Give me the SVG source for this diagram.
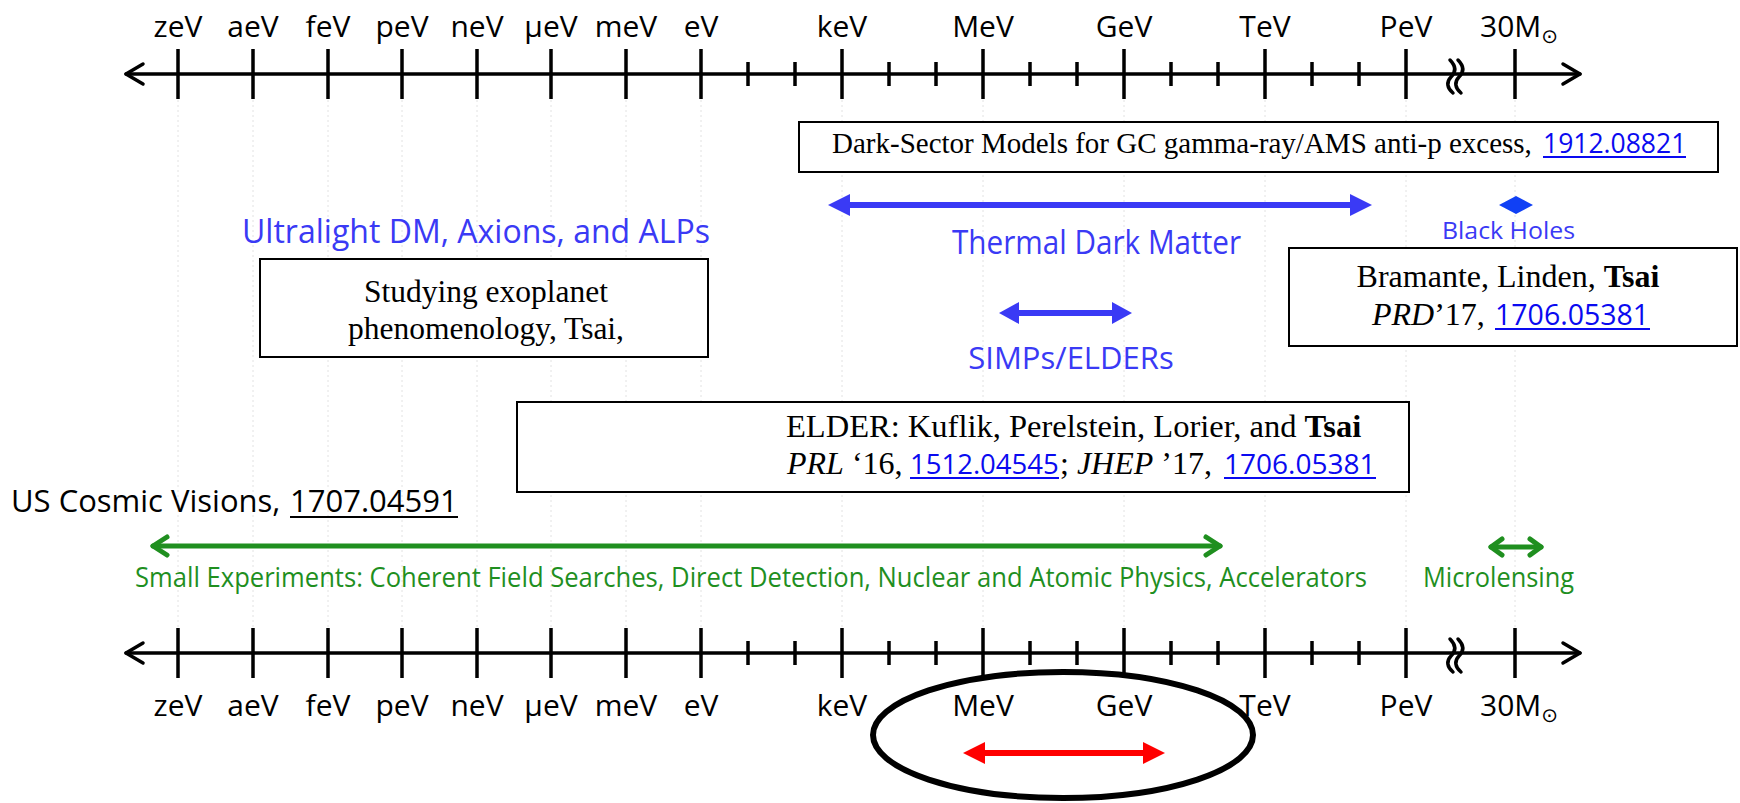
<svg xmlns="http://www.w3.org/2000/svg" width="1740" height="803" viewBox="0 0 1740 803">
<defs>
<style>
.ax{font-family:"Open Sans","Liberation Sans",sans-serif;font-size:30px;fill:#000;text-anchor:middle}
.axs{font-family:"Open Sans","Liberation Sans",sans-serif;font-size:30px;fill:#000}
.sun{font-family:"DejaVu Sans",sans-serif;font-size:20px}
.axl{stroke:#000;stroke-width:3.5;fill:none;stroke-linecap:round;stroke-linejoin:round}
.tk{stroke:#000;stroke-width:3.5}
.grid{stroke:#e2e2e2;stroke-width:1;stroke-dasharray:2 3}
.box{fill:#fff;stroke:#000;stroke-width:2}
.serif{font-family:"Liberation Serif","Times New Roman",serif;fill:#000}
.sans{font-family:"Open Sans","Liberation Sans",sans-serif}
.blue{fill:#3a3af5}
.link{fill:#0a0af0}
.ul{stroke:#0a0af0;stroke-width:2}
.green{fill:#1f8f1f}
.garr{stroke:#1f8f1f;stroke-width:5;fill:none;stroke-linecap:round;stroke-linejoin:round}
</style>
</defs>
<rect width="1740" height="803" fill="#fff"/>

<g id="grid">
<line class="grid" x1="178" y1="100" x2="178" y2="627"/>
<line class="grid" x1="253" y1="100" x2="253" y2="627"/>
<line class="grid" x1="328" y1="100" x2="328" y2="627"/>
<line class="grid" x1="402" y1="100" x2="402" y2="627"/>
<line class="grid" x1="477" y1="100" x2="477" y2="627"/>
<line class="grid" x1="551" y1="100" x2="551" y2="627"/>
<line class="grid" x1="626" y1="100" x2="626" y2="627"/>
<line class="grid" x1="701" y1="100" x2="701" y2="627"/>
<line class="grid" x1="842" y1="100" x2="842" y2="627"/>
<line class="grid" x1="983" y1="100" x2="983" y2="627"/>
<line class="grid" x1="1124" y1="100" x2="1124" y2="627"/>
<line class="grid" x1="1265" y1="100" x2="1265" y2="627"/>
<line class="grid" x1="1406" y1="100" x2="1406" y2="627"/>
<line class="grid" x1="1515" y1="100" x2="1515" y2="627"/>
</g>

<g id="axis-top">
<line class="axl" x1="126" y1="74" x2="1580" y2="74"/>
<path class="axl" d="M143,64 L126,74 L143,84"/>
<path class="axl" d="M1563,64 L1580,74 L1563,84"/>
<path class="tk" d="M178,49V99M253,49V99M328,49V99M402,49V99M477,49V99M551,49V99M626,49V99M701,49V99M842,49V99M983,49V99M1124,49V99M1265,49V99M1406,49V99M1515,49V99"/>
<path class="tk" d="M748,62V86M795,62V86M889,62V86M936,62V86M1030,62V86M1077,62V86M1171,62V86M1218,62V86M1312,62V86M1359,62V86"/>
<path class="axl" stroke-width="3" d="M1450,60 C1456,66 1456,72 1451,77 C1446,82 1447,88 1453,93"/>
<path class="axl" stroke-width="3" d="M1458,60 C1464,66 1464,72 1459,77 C1454,82 1455,88 1461,93"/>
<text class="ax" x="178" y="37">zeV</text>
<text class="ax" x="253" y="37">aeV</text>
<text class="ax" x="328" y="37">feV</text>
<text class="ax" x="402" y="37">peV</text>
<text class="ax" x="477" y="37">neV</text>
<text class="ax" x="551" y="37">μeV</text>
<text class="ax" x="626" y="37">meV</text>
<text class="ax" x="701" y="37">eV</text>
<text class="ax" x="842" y="37">keV</text>
<text class="ax" x="983" y="37">MeV</text>
<text class="ax" x="1124" y="37">GeV</text>
<text class="ax" x="1265" y="37">TeV</text>
<text class="ax" x="1406" y="37">PeV</text>
<text class="axs" x="1480" y="37">30M<tspan class="sun" dy="6">⊙</tspan></text>
</g>

<g id="box-darksector">
<rect class="box" x="799" y="122" width="919" height="50"/>
<text class="serif" x="832" y="153" font-size="29">Dark-Sector Models for GC gamma-ray/AMS anti-p excess,</text>
<text class="sans link" x="1543" y="153" font-size="26.5">1912.08821</text>
<line class="ul" x1="1543" y1="157" x2="1686" y2="157"/>
</g>

<g id="thermal-dm">
<line x1="846" y1="205" x2="1354" y2="205" stroke="#3a3af5" stroke-width="6"/>
<polygon points="828,205 850,194 850,216" fill="#3a3af5"/>
<polygon points="1372,205 1350,194 1350,216" fill="#3a3af5"/>
<text class="sans blue" x="952" y="254" font-size="32" textLength="289" lengthAdjust="spacingAndGlyphs">Thermal Dark Matter</text>
</g>

<g id="black-holes">
<polygon points="1516,196 1533,205 1516,214 1499,205" fill="#1040f5"/>
<text class="sans blue" x="1442" y="239" font-size="24" textLength="133" lengthAdjust="spacingAndGlyphs">Black Holes</text>
</g>

<g id="ultralight">
<text class="sans blue" x="242" y="243" font-size="32" textLength="468" lengthAdjust="spacingAndGlyphs">Ultralight DM, Axions, and ALPs</text>
</g>

<g id="box-exoplanet">
<rect class="box" x="260" y="259" width="448" height="98"/>
<text class="serif" x="486" y="302" font-size="31.5" text-anchor="middle">Studying exoplanet</text>
<text class="serif" x="486" y="339" font-size="31.5" text-anchor="middle">phenomenology, Tsai,</text>
</g>

<g id="box-bramante">
<rect class="box" x="1289" y="248" width="448" height="98"/>
<text class="serif" x="1508" y="287" font-size="32" text-anchor="middle">Bramante, Linden, <tspan font-weight="bold">Tsai</tspan></text>
<text class="serif" x="1372" y="325" font-size="32"><tspan font-style="italic">PRD</tspan>’17,</text>
<text class="sans link" x="1495" y="325" font-size="28.5">1706.05381</text>
<line class="ul" x1="1495" y1="329" x2="1650" y2="329"/>
</g>

<g id="simps">
<line x1="1015" y1="313" x2="1116" y2="313" stroke="#3a3af5" stroke-width="6"/>
<polygon points="999,313 1019,302 1019,324" fill="#3a3af5"/>
<polygon points="1132,313 1112,302 1112,324" fill="#3a3af5"/>
<text class="sans blue" x="1071" y="369" font-size="31" text-anchor="middle">SIMPs/ELDERs</text>
</g>

<g id="box-elder">
<rect class="box" x="517" y="402" width="892" height="90"/>
<text class="serif" x="786" y="437" font-size="32.5">ELDER: Kuflik, Perelstein, Lorier, and <tspan font-weight="bold">Tsai</tspan></text>
<text class="serif" x="787" y="474" font-size="32"><tspan font-style="italic">PRL</tspan> ‘16,</text>
<text class="sans link" x="910" y="474" font-size="27.5">1512.04545</text>
<line class="ul" x1="910" y1="478" x2="1059" y2="478"/>
<text class="serif" x="1060" y="474" font-size="32">; <tspan font-style="italic">JHEP</tspan> ’17,</text>
<text class="sans link" x="1224" y="474" font-size="28">1706.05381</text>
<line class="ul" x1="1224" y1="478" x2="1376" y2="478"/>
</g>

<g id="us-cosmic">
<text class="sans" x="11" y="512" font-size="31">US Cosmic Visions,</text>
<text class="sans" x="290" y="512" font-size="31">1707.04591</text>
<line x1="290" y1="517" x2="458" y2="517" stroke="#000" stroke-width="2"/>
</g>

<g id="small-experiments">
<line class="garr" x1="153" y1="546" x2="1220" y2="546"/>
<path class="garr" d="M167,537 L153,546 L167,555"/>
<path class="garr" d="M1206,537 L1220,546 L1206,555"/>
<text class="sans green" x="135" y="587" font-size="27" textLength="1232" lengthAdjust="spacingAndGlyphs">Small Experiments: Coherent Field Searches, Direct Detection, Nuclear and Atomic Physics, Accelerators</text>
</g>

<g id="microlensing">
<line class="garr" x1="1491" y1="547" x2="1541" y2="547"/>
<path class="garr" d="M1502,539 L1491,547 L1502,555"/>
<path class="garr" d="M1530,539 L1541,547 L1530,555"/>
<text class="sans green" x="1423" y="587" font-size="27" textLength="151" lengthAdjust="spacingAndGlyphs">Microlensing</text>
</g>

<g id="axis-bottom">
<line class="axl" x1="126" y1="653" x2="1580" y2="653"/>
<path class="axl" d="M143,643 L126,653 L143,663"/>
<path class="axl" d="M1563,643 L1580,653 L1563,663"/>
<path class="tk" d="M178,628V678M253,628V678M328,628V678M402,628V678M477,628V678M551,628V678M626,628V678M701,628V678M842,628V678M983,628V678M1124,628V678M1265,628V678M1406,628V678M1515,628V678"/>
<path class="tk" d="M748,641V665M795,641V665M889,641V665M936,641V665M1030,641V665M1077,641V665M1171,641V665M1218,641V665M1312,641V665M1359,641V665"/>
<path class="axl" stroke-width="3" d="M1450,639 C1456,645 1456,651 1451,656 C1446,661 1447,667 1453,672"/>
<path class="axl" stroke-width="3" d="M1458,639 C1464,645 1464,651 1459,656 C1454,661 1455,667 1461,672"/>
<text class="ax" x="178" y="716">zeV</text>
<text class="ax" x="253" y="716">aeV</text>
<text class="ax" x="328" y="716">feV</text>
<text class="ax" x="402" y="716">peV</text>
<text class="ax" x="477" y="716">neV</text>
<text class="ax" x="551" y="716">μeV</text>
<text class="ax" x="626" y="716">meV</text>
<text class="ax" x="701" y="716">eV</text>
<text class="ax" x="842" y="716">keV</text>
<text class="ax" x="983" y="716">MeV</text>
<text class="ax" x="1124" y="716">GeV</text>
<text class="ax" x="1265" y="716">TeV</text>
<text class="ax" x="1406" y="716">PeV</text>
<text class="axs" x="1480" y="716">30M<tspan class="sun" dy="6">⊙</tspan></text>
</g>

<g id="focus">
<ellipse cx="1063" cy="735" rx="190" ry="63" fill="none" stroke="#000" stroke-width="6"/>
<line x1="981" y1="753" x2="1147" y2="753" stroke="#ff0000" stroke-width="6"/>
<polygon points="963,753 985,742 985,764" fill="#ff0000"/>
<polygon points="1165,753 1143,742 1143,764" fill="#ff0000"/>
</g>
</svg>
